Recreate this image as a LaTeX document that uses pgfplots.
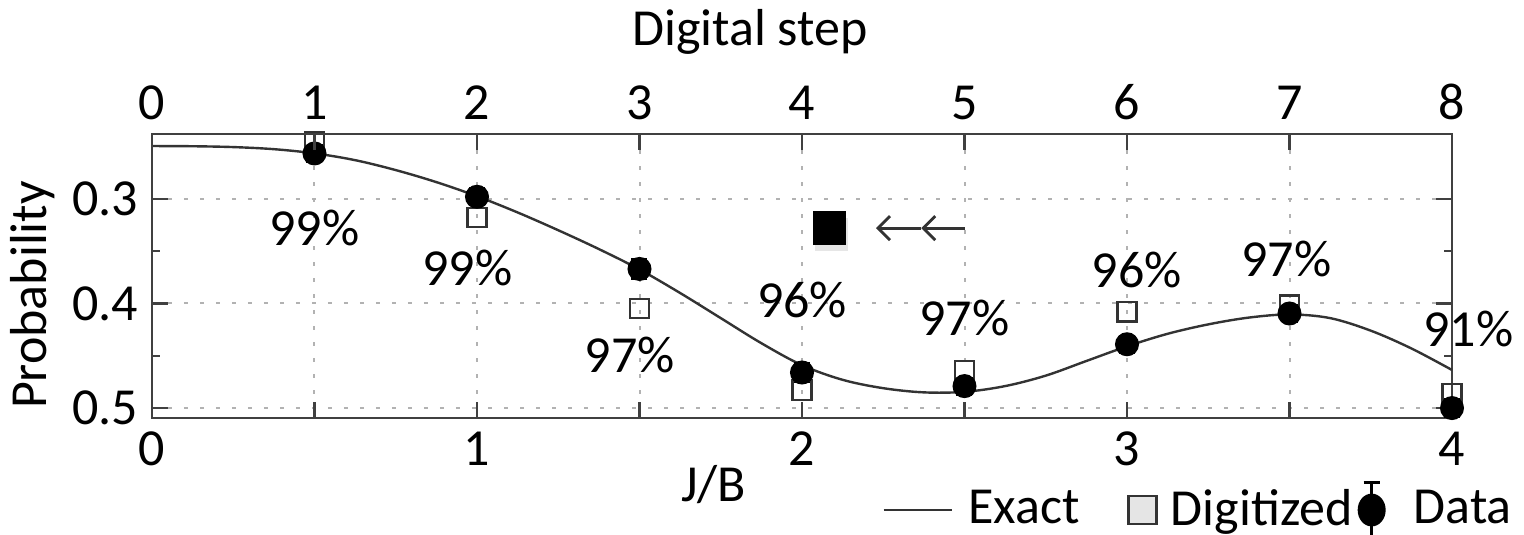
\documentclass[border=0pt]{standalone}
\usepackage{pgfplots}
\pgfplotsset{compat=1.18}
\usepackage{fontspec}
\setmainfont{Carlito}
\usetikzlibrary{shadows,arrows.meta}
\newcommand\fs{\fontsize{13}{15.6}\selectfont}

\begin{document}
\begin{tikzpicture}
\begin{axis}[name=ax, scale only axis, width=325pt, height=71pt, clip=false,
  xmin=0, xmax=4, ymin=0.238, ymax=0.5095, y dir=reverse,
  axis line style={draw=black!75, line width=0.7pt},
  xtick={0,0.5,...,4}, xticklabels={0,,1,,2,,3,,4},
  ytick={0.3,0.4,0.5}, yticklabels={0.3,0.4,0.5},
  minor ytick={0.35,0.45},
  xtick pos=left, ytick pos=both,
  tick align=inside,
  tick style={black!75, line width=0.6pt},
  major tick length=4pt, minor tick length=2pt,
  ticklabel style={font=\fs},
  xmajorgrids, ymajorgrids,
  major grid style={gray!60, dash pattern=on 1pt off 3pt, line width=0.5pt},
  xlabel={J/B}, ylabel={Probability},
  every axis x label/.style={at={(axis description cs:0.432,-0.236)}, anchor=center, font=\fs},
  every axis y label/.style={at={(axis description cs:-0.0915,0.433)}, anchor=center, rotate=90, font=\fs},
  legend columns=3,
  legend style={at={(axis description cs:1.062,-0.324)}, anchor=east, draw=none, fill=none, font=\fs,
    /tikz/every even column/.append style={column sep=0pt}},
]
\addplot[black!80, line width=0.6pt, smooth, tension=0.55,
  legend image code/.code={
    \path[draw=none, fill=none] (0pt,-1pt) rectangle (19.25pt,1pt);
    \draw[black!80, line width=0.6pt] (0pt,0pt) -- (17pt,0pt);}]
  table {
x y
0 0.2495
0.125 0.2497
0.25 0.2505
0.375 0.2525
0.5 0.2565
0.625 0.2630
0.75 0.2725
0.875 0.2840
1.0 0.2975
1.125 0.3130
1.25 0.3300
1.375 0.3480
1.5 0.3675
1.625 0.3900
1.75 0.4140
1.875 0.4380
2.0 0.4590
2.125 0.4730
2.25 0.4810
2.375 0.4850
2.5 0.4845
2.625 0.4790
2.75 0.4690
2.875 0.4550
3.0 0.4410
3.125 0.4290
3.25 0.4200
3.375 0.4135
3.5 0.4105
3.625 0.4140
3.75 0.4260
3.875 0.4430
4.0 0.4636
};
\addlegendentry{Exact}
\addplot[only marks, mark=square, mark size=2.4pt, mark options={draw=black!80, line width=0.6pt, fill=white},
  legend image code/.code={
    \path[draw=none, fill=none] (0pt,-1pt) rectangle (18.75pt,1pt);
    \draw[black!80, line width=0.7pt, fill=white!90!black] (10.25pt,-3.5pt) rectangle (17.25pt,3.5pt);}]
  table {
x y
0.5 0.245
1.0 0.318
1.5 0.405
2.0 0.483
2.5 0.464
3.0 0.408
3.5 0.4015
4.0 0.486
};
\addlegendentry{Digitized}
\addplot[only marks, mark=*, mark size=2.8pt, black,
  legend image code/.code={
    \path[draw=none, fill=none] (0pt,-1pt) rectangle (11.25pt,1pt);
    \draw[overlay, black, line width=0.6pt] (2.75pt,-6.9pt) -- (2.75pt,6.9pt);
    \draw[overlay, black, line width=0.6pt] (0.75pt,-6.9pt) -- (4.75pt,-6.9pt);
    \draw[overlay, black, line width=0.6pt] (0.75pt,6.9pt) -- (4.75pt,6.9pt);
    \fill[overlay, black] (2.75pt,0pt) ellipse (3.3pt and 3.9pt);},
  error bars/.cd, y dir=both, y explicit,
  error bar style={line width=0.6pt},
  error mark options={rotate=90, mark size=2pt, line width=0.6pt}]
  table[y error=e] {
x y e
0.5 0.2566 0.008
1.0 0.298 0.008
1.5 0.367 0.009
2.0 0.466 0.009
2.5 0.479 0.008
3.0 0.439 0.008
3.5 0.4096 0.008
4.0 0.500 0.008
};
\addlegendentry{Data}
\node[font=\fs] at (axis cs:0.5,0.328) {99\%};
\node[font=\fs] at (axis cs:0.97,0.366) {99\%};
\node[font=\fs] at (axis cs:1.47,0.449) {97\%};
\node[font=\fs] at (axis cs:2.0,0.397) {96\%};
\node[font=\fs] at (axis cs:2.5,0.414) {97\%};
\node[font=\fs] at (axis cs:3.03,0.368) {96\%};
\node[font=\fs] at (axis cs:3.49,0.357) {97\%};
\node[font=\fs] at (axis cs:4.05,0.424) {91\%};
\node[fill=black, minimum size=8.3pt, inner sep=0pt, drop shadow={opacity=0.2, shadow xshift=0.4pt, shadow yshift=-1.6pt}] at (axis cs:2.085,0.3278) {};
\draw[black!80, line width=0.7pt, -{Straight Barb[length=3pt,width=6pt]}] (axis cs:2.5,0.328) -- (axis cs:2.367,0.328);
\draw[black!80, line width=0.7pt, -{Straight Barb[length=3pt,width=6pt]}] (axis cs:2.367,0.328) -- (axis cs:2.228,0.328);
\end{axis}
\begin{axis}[scale only axis, width=325pt, height=71pt,
  xmin=0, xmax=8, ymin=0, ymax=1,
  axis x line*=top, hide y axis,
  axis line style={draw=black!75, line width=0.7pt},
  xtick={0,...,8}, xticklabels={0,1,2,3,4,5,6,7,8},
  tick align=inside, major tick length=4pt,
  tick style={black!75, line width=0.6pt},
  ticklabel style={font=\fs},
  xlabel={Digital step},
  every axis x label/.style={at={(axis description cs:0.46,1.359)}, anchor=center, font=\fs},
]
\addplot[draw=none] coordinates {(0,0.5)};
\end{axis}
\pgfresetboundingbox
\path ([xshift=-38pt,yshift=-29.25pt]ax.south west) rectangle ([xshift=18pt,yshift=33.5pt]ax.north east);
\end{tikzpicture}
\end{document}
